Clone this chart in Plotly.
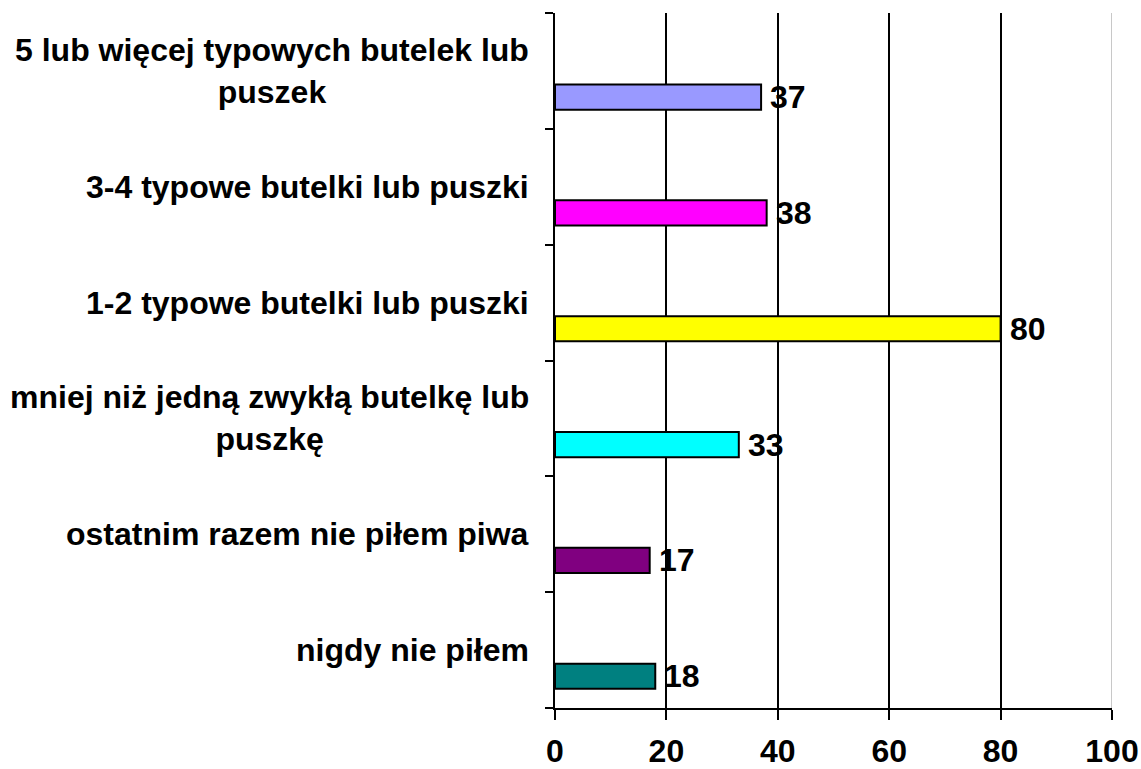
import plotly.graph_objects as go

categories = [
    "5 lub więcej typowych butelek lub<br>puszek",
    "3-4 typowe butelki lub puszki",
    "1-2 typowe butelki lub puszki",
    "mniej niż jedną zwykłą butelkę lub<br>puszkę",
    "ostatnim razem nie piłem piwa",
    "nigdy nie piłem",
]
values = [37, 38, 80, 33, 17, 18]
colors = ["#9999FF", "#FF00FF", "#FFFF00", "#00FFFF", "#800080", "#008080"]
x_ticks = [0, 20, 40, 60, 80, 100]

FONT = "Liberation Sans, Arial, sans-serif"
FS = 32

n = len(categories)
centers = [n - 1 - i for i in range(n)]
BAR_OFFSET = 0.226
BAR_W = 0.217
bar_y = [c - BAR_OFFSET for c in centers]
boundaries = [k - 0.5 for k in range(n + 1)]

fig = go.Figure()
fig.add_trace(go.Bar(
    x=values, y=bar_y, orientation="h", width=BAR_W,
    marker=dict(color=colors, line=dict(color="black", width=2)),
    hoverinfo="skip", showlegend=False,
))

annotations = []
for c, lab in zip(centers, categories):
    annotations.append(dict(
        x=0, xref="paper", y=c, yref="y", text="<b>" + lab + "</b>",
        xanchor="right", yanchor="middle", xshift=-24, yshift=0, align="center",
        showarrow=False, font=dict(family=FONT, size=FS, color="black"),
    ))
for v, yb in zip(values, bar_y):
    annotations.append(dict(
        x=v, xref="x", y=yb, yref="y", text="<b>" + str(v) + "</b>",
        xanchor="left", yanchor="middle", xshift=7,
        showarrow=False, font=dict(family=FONT, size=FS, color="black"),
    ))

fig.update_layout(
    width=1141, height=769,
    margin=dict(l=555, r=29, t=13, b=61, autoexpand=False),
    paper_bgcolor="white", plot_bgcolor="white",
    annotations=annotations,
    xaxis=dict(
        range=[0, 100], tickvals=x_ticks, ticktext=[str(t) for t in x_ticks],
        showgrid=True, gridcolor="black", gridwidth=2,
        showline=True, linecolor="black", linewidth=2,
        ticks="outside", ticklen=10, tickwidth=2, tickcolor="black",
        tickfont=dict(family=FONT, size=FS, color="black", weight="bold"),
        ticklabelstandoff=4,
        zeroline=False, fixedrange=True, automargin=False,
    ),
    yaxis=dict(
        range=[-0.5, n - 0.5], tickvals=boundaries, showticklabels=False,
        ticks="outside", ticklen=8, tickwidth=2, tickcolor="black",
        showgrid=False, zeroline=False, automargin=False,
        showline=True, linecolor="black", linewidth=2, fixedrange=True,
    ),
    shapes=[dict(type="line", xref="x", yref="paper", x0=x_ticks[-1], x1=x_ticks[-1],
                 y0=0, y1=1, line=dict(color="#C8C8C8", width=2), layer="above")],
)

fig.write_html(
    "out.html",
    config={"displayModeBar": False, "staticPlot": True},
    post_script="document.body.style.margin='0';document.body.style.overflow='hidden';",
)
